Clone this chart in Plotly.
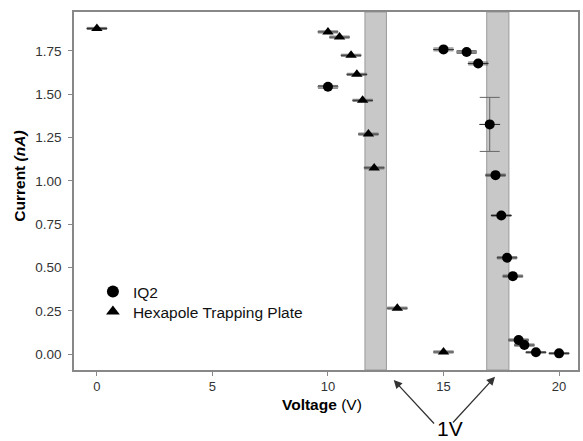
import plotly.graph_objects as go

# Data
tri_v = [0, 10, 10.5, 11, 11.25, 11.5, 11.75, 12, 13, 15]
tri_i = [1.88, 1.86, 1.83, 1.725, 1.615, 1.465, 1.27, 1.075, 0.265, 0.012]
circ_v = [10, 15, 16, 16.5, 17, 17.25, 17.5, 17.75, 18, 18.25, 18.5, 19, 20]
circ_i = [1.543, 1.759, 1.744, 1.678, 1.326, 1.033, 0.80, 0.556, 0.45, 0.081, 0.052, 0.01, 0.004]
circ_yerr = [0.008, 0.008, 0.008, 0.008, 0.156, 0.006, 0.004, 0.006, 0.006, 0.006, 0.006, 0.004, 0.004]
volt_err = 0.45
bands = [(11.6, 12.53), (16.87, 17.83)]
xticks = [0, 5, 10, 15, 20]
yticks = [0, 0.25, 0.5, 0.75, 1.0, 1.25, 1.5, 1.75]

fig = go.Figure()

for x0, x1 in bands:
    fig.add_shape(type="rect", xref="x", yref="paper", x0=x0, x1=x1, y0=0, y1=1,
                  fillcolor="#c8c8c8", line=dict(color="#9a9a9a", width=1), layer="below")

fig.add_trace(go.Scatter(
    x=circ_v, y=circ_i, mode="markers", name="IQ2", legend="legend",
    marker=dict(symbol="circle", size=10, color="black"),
    error_x=dict(type="constant", value=volt_err, color="#222", thickness=1, width=0),
    error_y=dict(type="data", array=circ_yerr, color="#666", thickness=1, width=10),
))
fig.add_trace(go.Scatter(
    x=tri_v, y=tri_i, mode="markers", name="Hexapole Trapping Plate", legend="legend2",
    marker=dict(symbol="triangle-up", size=10, color="black"),
    error_x=dict(type="constant", value=volt_err, color="#222", thickness=1, width=0),
    error_y=dict(type="constant", value=0.006, color="#777", thickness=1, width=10),
))

# Arrows (heads in paper coords, tails as pixel offsets) and label
W, H, L, T = 506, 358, 74, 12
arrow_heads_px = [(395, 380), (496.7, 376.7)]
arrow_tails_px = [(436.7, 425), (453.3, 424)]
for (hx, hy), (tx, ty) in zip(arrow_heads_px, arrow_tails_px):
    fig.add_annotation(x=(hx - L) / W, y=(T + H - hy) / H, xref="paper", yref="paper",
                       ax=tx - hx, ay=ty - hy, axref="pixel", ayref="pixel",
                       text="", showarrow=True, arrowhead=2,
                       arrowsize=1.3, arrowwidth=1.3, arrowcolor="#333")
fig.add_annotation(x=(451 - L) / W, y=(T + H - 429) / H, xref="paper", yref="paper",
                   text="1V", showarrow=False,
                   font=dict(size=21, color="black"), yanchor="middle", xanchor="center")

# Axis titles
fig.add_annotation(x=(322.5 - L) / W, y=(T + H - 404) / H, xref="paper", yref="paper",
                   text="<b>Voltage</b> (V)", showarrow=False,
                   font=dict(size=15.5, color="black"), xanchor="center", yanchor="middle")
fig.add_annotation(x=(18.5 - L) / W, y=(T + H - 176) / H, xref="paper", yref="paper",
                   text="<b>Current <i>(nA)</i></b>", showarrow=False, textangle=-90,
                   font=dict(size=15.5, color="black"), xanchor="center", yanchor="middle")

leg_common = dict(xanchor="left", yanchor="middle", font=dict(size=15.5, color="#111"),
                  bgcolor="rgba(0,0,0,0)", itemsizing="constant")

fig.update_layout(
    width=583, height=441,
    margin=dict(l=L, r=3, t=T, b=71),
    paper_bgcolor="white", plot_bgcolor="white",
    font=dict(family="Liberation Sans, Arial", color="#222"),
    showlegend=True,
    legend=dict(x=0.0375, y=(T + H - 292) / H, **leg_common),
    legend2=dict(x=0.0375, y=(T + H - 312) / H, **leg_common),
    xaxis=dict(range=[-0.99, 20.82], tickvals=xticks, ticks="outside", ticklen=4,
               tickcolor="#888", showline=True, linecolor="#888", linewidth=1.5, mirror=True,
               showgrid=False, zeroline=False, tickfont=dict(size=13, color="#333")),
    yaxis=dict(range=[-0.092, 1.975], tickvals=yticks, tickformat=".2f", ticks="outside",
               ticklen=4, tickcolor="#888", showline=True, linecolor="#888", linewidth=1.5,
               mirror=True, showgrid=False, zeroline=False, tickfont=dict(size=13.5, color="#333"),
               ticklabelstandoff=4),
)

fig.write_html("out.html", config={"displayModeBar": False},
               post_script="document.body.style.margin='0';document.body.style.overflow='hidden';")
